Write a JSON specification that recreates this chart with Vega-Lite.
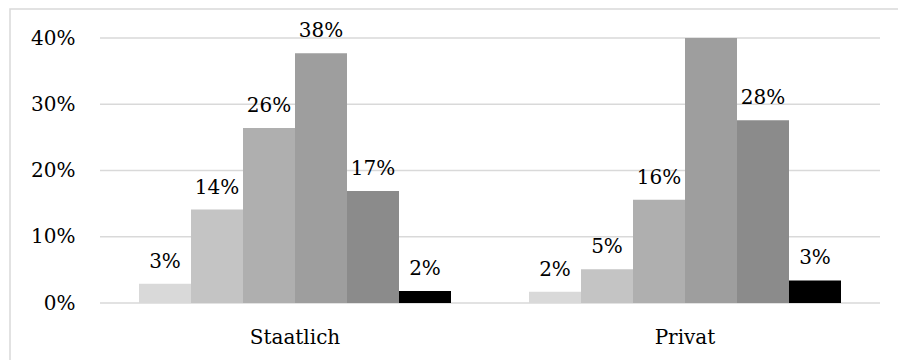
{
  "$schema": "https://vega.github.io/schema/vega-lite/v6.json",
  "width": 890,
  "height": 353,
  "autosize": "none",
  "padding": {"left": 10, "top": 9, "right": -2, "bottom": -2},
  "background": "white",
  "config": {
    "view": {"stroke": "#d9d9d9", "strokeWidth": 1.5},
    "font": "DejaVu Serif",
    "axis": {"labelFont": "DejaVu Serif"},
    "text": {"font": "DejaVu Serif"}
  },
  "datasets": {
    "bars": [
      {"group": "Staatlich", "level": "Stufe 1", "share": 0.029},
      {"group": "Staatlich", "level": "Stufe 2", "share": 0.141},
      {"group": "Staatlich", "level": "Stufe 3", "share": 0.264},
      {"group": "Staatlich", "level": "Stufe 4", "share": 0.377},
      {"group": "Staatlich", "level": "Stufe 5", "share": 0.169},
      {"group": "Staatlich", "level": "Stufe 6", "share": 0.018},
      {"group": "Privat", "level": "Stufe 1", "share": 0.017},
      {"group": "Privat", "level": "Stufe 2", "share": 0.051},
      {"group": "Privat", "level": "Stufe 3", "share": 0.156},
      {"group": "Privat", "level": "Stufe 4", "share": 0.469},
      {"group": "Privat", "level": "Stufe 5", "share": 0.276},
      {"group": "Privat", "level": "Stufe 6", "share": 0.034}
    ],
    "grid": [
      {"tick": 0}, {"tick": 0.1}, {"tick": 0.2}, {"tick": 0.3}, {"tick": 0.4}
    ]
  },
  "layer": [
    {
      "data": {"name": "grid"},
      "mark": {"type": "rule", "color": "#d9d9d9", "strokeWidth": 1.5},
      "encoding": {
        "y": {
          "field": "tick",
          "type": "quantitative",
          "scale": {"domain": [0, 0.4], "range": [294, 29], "clamp": true, "nice": false, "zero": true},
          "axis": {
            "title": null,
            "values": [0, 0.1, 0.2, 0.3, 0.4],
            "format": ".0%",
            "grid": false,
            "domain": false,
            "ticks": false,
            "labelFontSize": 20,
            "labelColor": "black",
            "labelAlign": "right",
            "labelPadding": -65
          }
        },
        "x": {
          "datum": "Staatlich",
          "type": "nominal",
          "bandPosition": 0,
          "scale": {"domain": ["Staatlich", "Privat"], "range": [90, 870], "paddingInner": 0, "paddingOuter": 0},
          "axis": {
            "title": null,
            "domain": false,
            "ticks": false,
            "labelAngle": 0,
            "labelFontSize": 20,
            "labelColor": "black",
            "labelBaseline": "alphabetic",
            "labelPadding": 40,
            "offset": -59
          }
        },
        "x2": {"datum": "Privat", "bandPosition": 1}
      }
    },
    {
      "data": {"name": "bars"},
      "mark": {"type": "bar"},
      "encoding": {
        "x": {"field": "group", "type": "nominal"},
        "xOffset": {
          "field": "level",
          "type": "nominal",
          "scale": {"paddingInner": 0, "paddingOuter": 0.75}
        },
        "y": {"field": "share", "type": "quantitative", "stack": null},
        "color": {
          "field": "level",
          "type": "nominal",
          "scale": {
            "domain": ["Stufe 1", "Stufe 2", "Stufe 3", "Stufe 4", "Stufe 5", "Stufe 6"],
            "range": ["#d9d9d9", "#c4c4c4", "#afafaf", "#9e9e9e", "#8b8b8b", "#000000"]
          },
          "legend": null
        }
      }
    },
    {
      "data": {"name": "bars"},
      "transform": [{"filter": "datum.share <= 0.4"}],
      "mark": {"type": "text", "fontSize": 20, "color": "black", "baseline": "alphabetic", "align": "center", "dy": -16},
      "encoding": {
        "x": {"field": "group", "type": "nominal"},
        "xOffset": {"field": "level", "type": "nominal"},
        "y": {"field": "share", "type": "quantitative"},
        "text": {"field": "share", "type": "quantitative", "format": ".0%"}
      }
    }
  ]
}
